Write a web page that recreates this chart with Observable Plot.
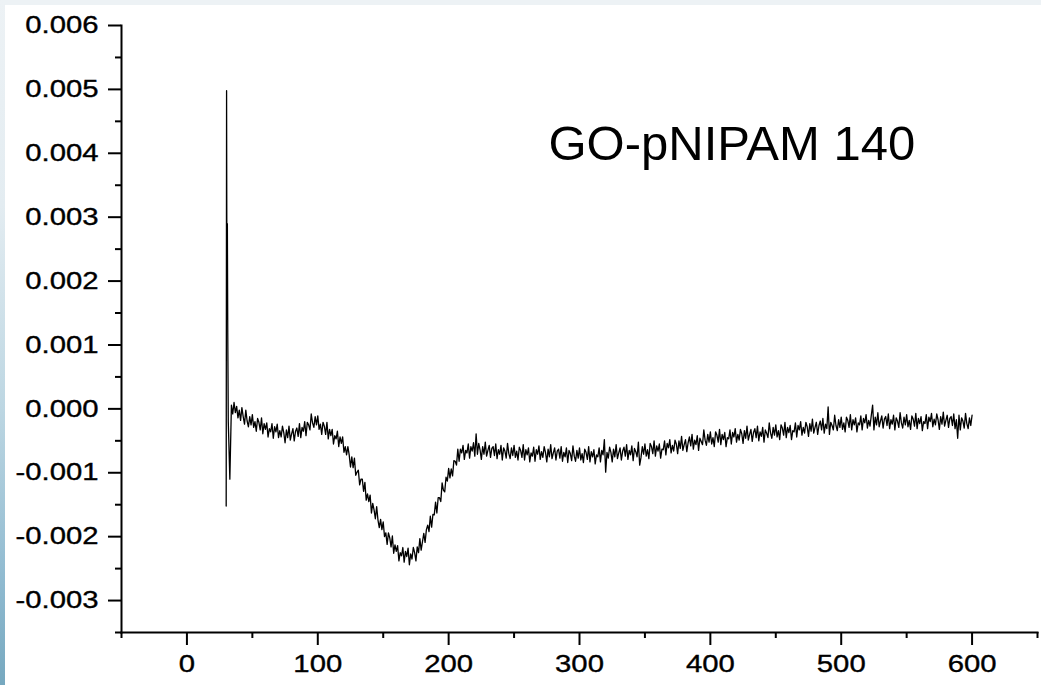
<!DOCTYPE html>
<html>
<head>
<meta charset="utf-8">
<script src="https://cdn.jsdelivr.net/npm/d3@7"></script>
<script src="https://cdn.jsdelivr.net/npm/@observablehq/plot@0.6"></script>
<style>
  html, body { margin: 0; padding: 0; }
  body { width: 1041px; height: 685px; position: relative; overflow: hidden; background: #edf2f5; font-family: "Liberation Sans", Arial, sans-serif; }
  #sheet { position: absolute; left: 5px; top: 5px; right: 0; bottom: 0; background: #ffffff; }
  #edge { position: absolute; left: 0; top: 0; width: 5px; bottom: 0;
          background: linear-gradient(to bottom, #edf2f5 0%, #e3ecf1 30%, #bcd6e2 60%, #8fbad0 85%, #76a8bf 100%); }
  #chart { position: absolute; left: 0; top: 0; }
</style>
</head>
<body>
<div id="sheet"></div>
<div id="edge"></div>
<div id="chart"></div>
<script>
// ---- data ----
const label = "GO-pNIPAM 140";

// initial spike at the start of the trace (x, value in units of 1e-4)
const spikeX = [30.0, 30.3, 30.6, 30.9, 31.2, 31.6, 32.8];
const spikeE4 = [-15.2, 49.8, 14.0, 29.0, 12.0, -2.0, -11.0];

// main trace, sampled every 1 unit from x = 34 to 600 (values in units of 1e-4)
const traceStart = 34;
const traceStep = 1;
const traceE4 = [
  0.6,-0.8,1.0,-0.6,0.4,-1.4,-0.2,-1.8,0.2,-1.2,
  -2.4,-0.2,-1.9,-2.8,-1.2,-2.5,-0.9,-2.9,-2.0,-3.5,
  -1.5,-2.1,-3.3,-1.4,-3.9,-2.3,-3.2,-2.2,-4.4,-3.1,
  -3.6,-2.3,-4.6,-2.8,-3.6,-2.4,-4.5,-3.4,-4.4,-2.7,
  -3.7,-5.3,-3.3,-4.5,-2.7,-4.9,-3.9,-3.1,-5.0,-3.5,
  -3.0,-4.3,-2.3,-4.5,-2.9,-3.5,-2.0,-4.2,-2.1,-2.5,
  -3.3,-0.8,-2.2,-2.9,-1.2,-2.5,-1.1,-3.2,-2.4,-4.0,
  -2.1,-2.7,-4.0,-2.1,-4.7,-3.2,-4.2,-3.2,-5.5,-4.2,
  -4.7,-3.5,-5.9,-4.4,-5.4,-4.4,-6.8,-5.9,-7.2,-5.9,
  -7.2,-9.1,-7.5,-9.2,-7.7,-10.4,-9.9,-9.6,-11.9,-11.0,
  -11.0,-12.9,-11.5,-14.3,-13.3,-14.5,-13.5,-16.3,-14.8,-15.8,
  -17.2,-15.3,-17.4,-18.6,-17.3,-18.9,-17.7,-20.0,-19.4,-21.2,
  -19.4,-20.2,-21.6,-19.9,-22.6,-21.3,-22.3,-21.4,-23.8,-22.5,
  -23.0,-21.7,-24.0,-22.3,-23.1,-21.8,-24.4,-22.7,-23.5,-21.7,
  -22.5,-23.8,-21.6,-22.5,-20.3,-22.1,-20.8,-19.5,-20.9,-18.9,
  -18.2,-19.2,-16.8,-18.5,-16.5,-16.6,-14.6,-16.3,-13.9,-13.9,
  -14.5,-11.6,-12.7,-13.0,-10.7,-11.3,-9.3,-10.8,-9.4,-10.5,
  -8.1,-8.2,-8.8,-6.3,-8.2,-6.3,-6.9,-5.7,-7.9,-6.5,
  -6.9,-5.5,-7.7,-5.9,-6.6,-5.3,-7.4,-3.9,-7.1,-5.4,
  -6.4,-7.9,-5.9,-7.1,-5.2,-7.4,-6.5,-5.7,-7.6,-6.2,
  -5.9,-7.3,-5.5,-7.8,-6.4,-7.1,-5.7,-8.0,-6.1,-6.6,
  -7.7,-5.4,-7.0,-7.8,-6.1,-7.3,-5.7,-7.6,-6.6,-8.0,
  -6.0,-6.5,-7.6,-5.6,-8.0,-6.4,-7.2,-6.1,-8.3,-6.9,
  -7.4,-6.0,-8.2,-6.4,-7.1,-5.8,-7.9,-6.7,-7.6,-5.9,
  -6.8,-8.3,-6.3,-7.5,-5.6,-7.8,-6.9,-6.1,-8.0,-6.6,
  -6.3,-7.7,-5.9,-8.2,-6.8,-7.5,-6.1,-8.4,-6.5,-7.0,
  -8.1,-5.8,-7.4,-8.2,-6.5,-7.7,-6.1,-8.0,-7.0,-8.4,
  -6.3,-6.8,-7.9,-5.9,-8.3,-6.7,-7.5,-6.4,-8.6,-7.2,
  -7.5,-6.1,-8.3,-6.5,-7.2,-4.8,-9.9,-6.8,-7.7,-6.0,
  -6.8,-8.3,-6.3,-7.5,-5.6,-7.8,-6.9,-6.1,-8.0,-6.6,
  -6.0,-7.4,-5.6,-7.9,-6.5,-7.2,-5.8,-8.1,-6.2,-6.7,
  -7.5,-5.2,-8.8,-7.6,-5.9,-7.1,-5.5,-7.4,-6.4,-7.8,
  -5.4,-5.9,-7.0,-5.0,-7.4,-5.8,-6.6,-5.5,-7.7,-6.3,
  -6.4,-5.0,-7.2,-5.4,-6.1,-4.8,-6.9,-5.7,-6.6,-4.9,
  -5.5,-7.0,-5.0,-6.2,-4.3,-6.5,-5.6,-4.8,-6.7,-5.3,
  -4.4,-5.8,-4.0,-6.3,-4.9,-5.6,-4.2,-6.5,-4.6,-5.1,
  -5.6,-3.3,-4.9,-5.7,-4.0,-5.2,-3.6,-5.5,-4.5,-5.9,
  -3.6,-4.1,-5.2,-3.2,-5.6,-4.0,-4.8,-3.7,-5.9,-4.5,
  -4.7,-3.3,-5.5,-3.7,-4.4,-3.1,-5.2,-4.0,-4.9,-3.2,
  -3.9,-5.4,-3.4,-4.6,-2.7,-4.9,-4.0,-3.2,-5.1,-3.7,
  -3.1,-4.5,-2.7,-5.0,-3.6,-4.3,-2.9,-5.2,-3.3,-3.8,
  -4.5,-2.2,-3.8,-4.6,-2.9,-4.1,-2.5,-4.4,-3.4,-4.8,
  -2.5,-3.0,-4.1,-2.1,-4.5,-2.9,-3.7,-2.6,-4.8,-3.4,
  -3.6,-2.2,-4.4,-2.6,-3.3,-2.0,-4.1,-2.9,-3.8,-2.1,
  -2.8,-4.3,-2.3,-3.5,-1.6,-3.8,-2.9,-2.1,-4.0,-2.6,
  -1.9,-3.3,-1.5,-3.8,-2.4,-3.1,0.3,-4.0,-2.1,-2.6,
  -3.3,-1.0,-2.6,-3.4,-1.7,-2.9,-1.3,-3.2,-2.2,-3.6,
  -1.3,-1.8,-2.9,-0.9,-3.3,-1.7,-2.5,-1.4,-3.6,-2.2,
  -2.5,-1.1,-3.3,-1.5,-2.2,-0.9,-3.0,-1.8,-2.7,-1.0,
  0.6,-3.3,-1.3,-2.5,-0.6,-2.8,-1.9,-1.1,-3.0,-1.6,
  -1.2,-2.6,-0.8,-3.1,-1.7,-2.4,-1.0,-3.3,-1.4,-1.9,
  -2.9,-0.6,-2.2,-3.0,-1.3,-2.5,-0.9,-2.8,-1.8,-3.2,
  -1.1,-1.6,-2.7,-0.7,-3.1,-1.5,-2.3,-1.2,-3.4,-2.0,
  -2.3,-0.9,-3.1,-1.3,-2.0,-0.7,-2.8,-1.6,-2.5,-0.8,
  -1.7,-3.2,-1.2,-2.4,-0.5,-2.7,-1.8,-1.0,-2.9,-1.5,
  -1.2,-2.6,-0.8,-3.1,-1.7,-4.6,-1.0,-3.3,-1.4,-1.9,
  -3.0,-0.7,-2.3,-3.1,-1.4,-2.6,-1.0
];

const xMajorTicks = [0, 100, 200, 300, 400, 500, 600];
const xMinorTicks = [-50, 50, 150, 250, 350, 450, 550, 650];
const yMajorTicks = [-0.003, -0.002, -0.001, 0.000, 0.001, 0.002, 0.003, 0.004, 0.005, 0.006];
const yMinorTicks = [-0.0035, -0.0025, -0.0015, -0.0005, 0.0005, 0.0015, 0.0025, 0.0035, 0.0045, 0.0055];

// ---- build table ----
const rows = spikeX.map((x, i) => ({x, y: spikeE4[i] * 1e-4}))
  .concat(traceE4.map((v, i) => ({x: traceStart + i * traceStep, y: v * 1e-4})));

const fmt = d => d.toFixed(3);

const chart = Plot.plot({
  width: 1041,
  height: 685,
  marginLeft: 121,
  marginRight: 4,
  marginTop: 25,
  marginBottom: 53,
  style: {background: "transparent", fontFamily: "'Liberation Sans', Arial, sans-serif", fontSize: "24px", color: "#000"},
  x: {domain: [-50, 650]},
  y: {domain: [-0.0035, 0.006]},
  marks: [
    Plot.axisX({ticks: xMinorTicks, tickSize: 6, text: null, strokeWidth: 2, label: null}),
    Plot.axisX({ticks: xMajorTicks, tickSize: 13, tickPadding: 9, strokeWidth: 2, label: null, tickFormat: d => String(d), fontSize: 24}),
    Plot.axisY({ticks: yMinorTicks, tickSize: 6, text: null, strokeWidth: 2, label: null}),
    Plot.axisY({ticks: yMajorTicks, tickSize: 13, tickPadding: 10, strokeWidth: 2, label: null, tickFormat: fmt, fontSize: 24}),
    Plot.frame({anchor: "bottom", strokeWidth: 2, stroke: "#000"}),
    Plot.frame({anchor: "left", strokeWidth: 2, stroke: "#000"}),
    Plot.line(rows, {x: "x", y: "y", stroke: "#000", strokeWidth: 1.3}),
    Plot.text([label], {frameAnchor: "top-left", textAnchor: "start", lineAnchor: "top", dx: 427, dy: 100, fontSize: 49, fill: "#000"})
  ]
});
document.getElementById("chart").append(chart);

// tick labels in the reference are horizontally stretched and slightly heavy
chart.querySelectorAll('[aria-label="x-axis tick label"] text, [aria-label="y-axis tick label"] text').forEach(t => {
  const len = t.getComputedTextLength();
  t.setAttribute("textLength", (len * 1.22).toFixed(1));
  t.setAttribute("lengthAdjust", "spacingAndGlyphs");
  t.setAttribute("stroke", "#000");
  t.setAttribute("stroke-width", "0.35");
});
</script>
</body>
</html>
